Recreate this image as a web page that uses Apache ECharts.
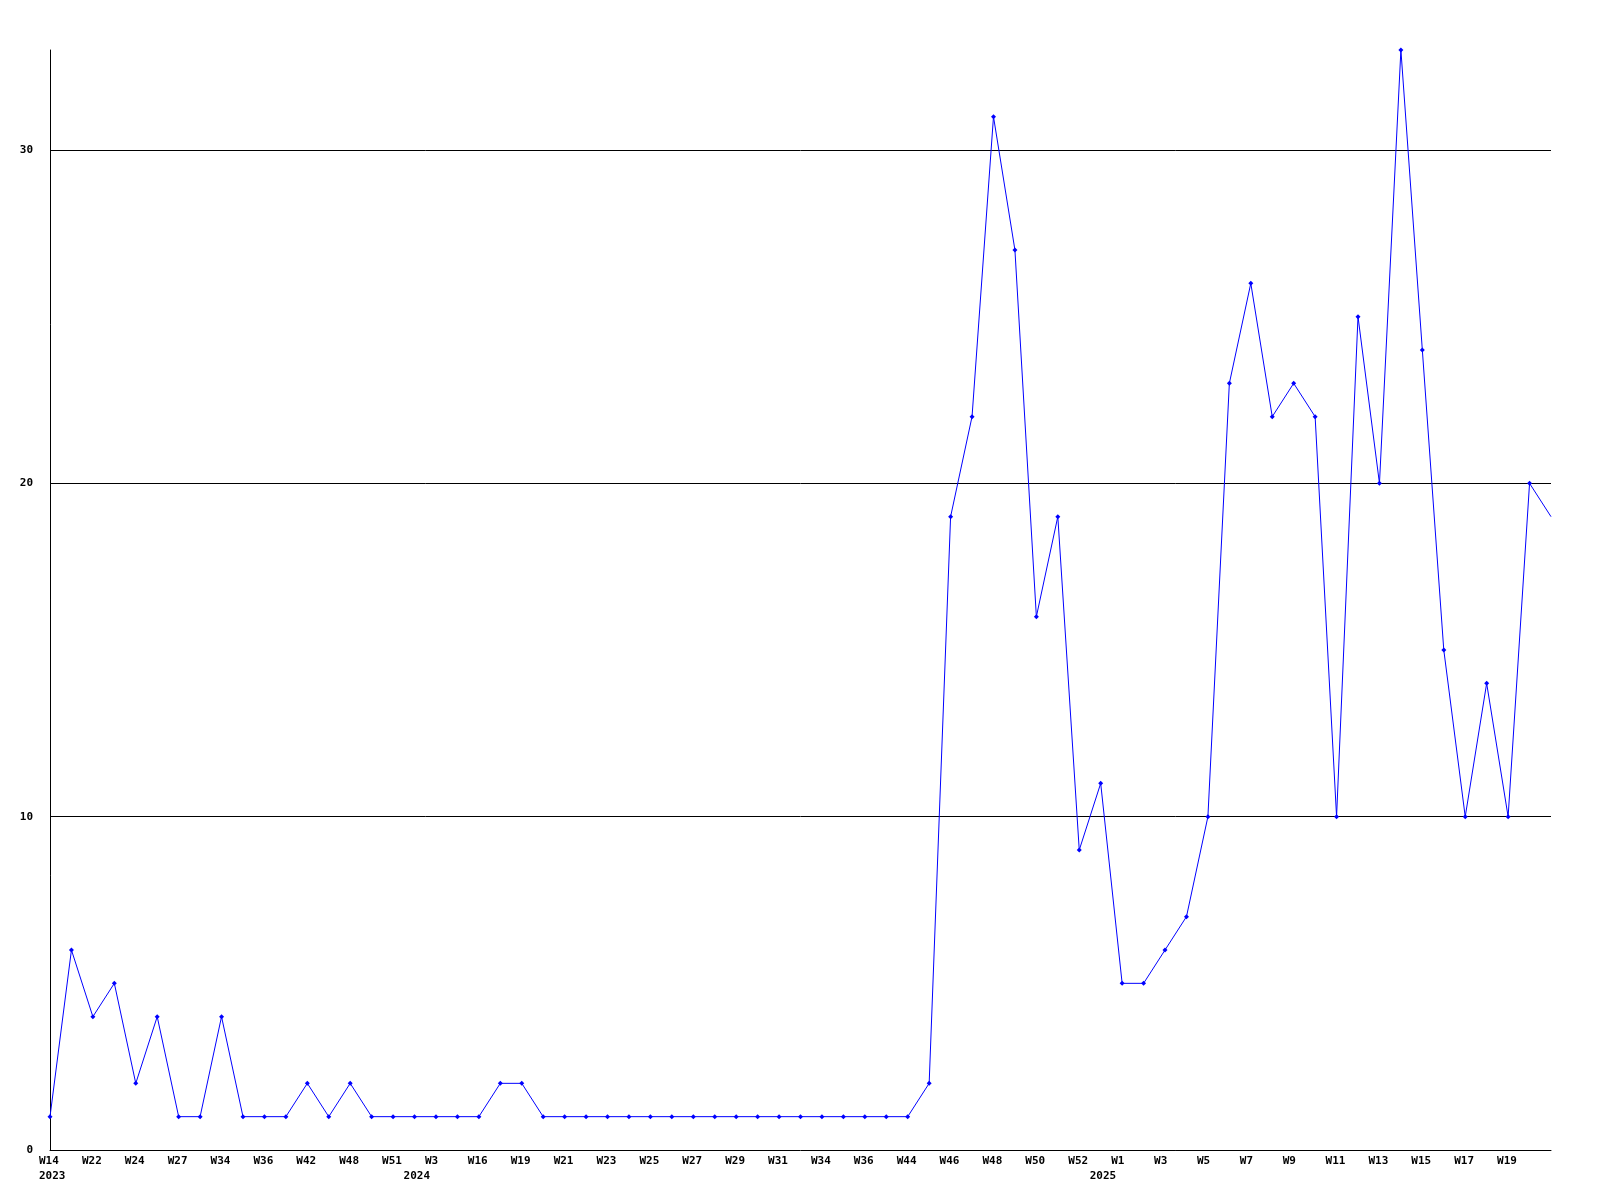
<!DOCTYPE html>
<html>
<head>
<meta charset="utf-8">
<script src="https://cdn.jsdelivr.net/npm/echarts@6/dist/echarts.min.js"></script>
<style>
html,body{margin:0;padding:0;background:#fff;}
#chart{width:1600px;height:1200px;}
</style>
</head>
<body>
<div id="chart"></div>
<script>
// Category per point: year and week label
const categories = [
  '2023-W14','2023-W21','2023-W22','2023-W23','2023-W24','2023-W26','2023-W27','2023-W30',
  '2023-W34','2023-W35','2023-W36','2023-W39','2023-W42','2023-W45','2023-W48','2023-W50',
  '2023-W51','2024-W2','2024-W3','2024-W10','2024-W16','2024-W18','2024-W19','2024-W20',
  '2024-W21','2024-W22','2024-W23','2024-W24','2024-W25','2024-W26','2024-W27','2024-W28',
  '2024-W29','2024-W30','2024-W31','2024-W32','2024-W34','2024-W35','2024-W36','2024-W40',
  '2024-W44','2024-W45','2024-W46','2024-W47','2024-W48','2024-W49','2024-W50','2024-W51',
  '2024-W52','2025-W0','2025-W1','2025-W2','2025-W3','2025-W4','2025-W5','2025-W6',
  '2025-W7','2025-W8','2025-W9','2025-W10','2025-W11','2025-W12','2025-W13','2025-W14',
  '2025-W15','2025-W16','2025-W17','2025-W18','2025-W19','2025-W20','2025-W21'
];
const values = [
  1,6,4,5,2,4,1,1,
  4,1,1,1,2,1,2,1,
  1,1,1,1,1,2,2,1,
  1,1,1,1,1,1,1,1,
  1,1,1,1,1,1,1,1,
  1,2,19,22,31,27,16,19,
  9,11,5,5,6,7,10,23,
  26,22,23,22,10,25,20,33,
  24,15,10,14,10,20,19
];
const yTicks = [0, 10, 20, 30];

const weekOf = c => c.split('-')[1];
const yearOf = c => c.split('-')[0];
const lastIdx = categories.length - 1;

const font = { fontFamily: 'DejaVu Sans Mono', fontWeight: 'bold', fontSize: 11, color: '#000' };

const chart = echarts.init(document.getElementById('chart'), null, { renderer: 'canvas' });
chart.setOption({
  animation: false,
  backgroundColor: '#ffffff',
  grid: { left: 50, right: 49, top: 50, bottom: 50, containLabel: false },
  xAxis: [
    {
      type: 'category',
      data: categories,
      boundaryGap: false,
      axisLine: { show: true, lineStyle: { color: '#000', width: 1 } },
      axisTick: { show: false },
      splitLine: { show: false },
      axisLabel: Object.assign({}, font, {
        interval: 1,
        margin: 6,
        showMaxLabel: false,
        formatter: (v, i) => (i === lastIdx ? '' : '{a|' + weekOf(v) + '}'),
        rich: { a: Object.assign({}, font, { width: 22, align: 'left' }) }
      })
    },
    {
      type: 'category',
      data: categories,
      boundaryGap: false,
      position: 'bottom',
      offset: 15,
      axisLine: { show: false },
      axisTick: { show: false },
      splitLine: { show: false },
      axisLabel: Object.assign({}, font, {
        interval: 0,
        margin: 6,
        formatter: (v, i) => {
          if (i === 0 || yearOf(categories[i - 1]) !== yearOf(v)) return '{a|' + yearOf(v) + '}';
          return '';
        },
        rich: { a: Object.assign({}, font, { width: 22, align: 'left' }) }
      })
    }
  ],
  yAxis: {
    type: 'value',
    min: 0,
    max: Math.max(...values),
    interval: 10,
    axisLine: { show: true, lineStyle: { color: '#000', width: 1 } },
    axisTick: { show: false },
    splitLine: { show: true, showMinLine: false, showMaxLine: false, lineStyle: { color: '#000', width: 1 } },
    axisLabel: Object.assign({}, font, {
      margin: 17,
      showMaxLabel: false,
      formatter: v => (yTicks.indexOf(v) >= 0 ? String(v) : '')
    })
  },
  series: [{
    type: 'line',
    xAxisIndex: 0,
    data: values.map((v, i) => (i === lastIdx ? { value: v, symbol: 'none' } : v)),
    symbol: 'diamond',
    symbolSize: 5,
    showAllSymbol: true,
    lineStyle: { color: '#0000ff', width: 1 },
    itemStyle: { color: '#0000ff' },
    emphasis: { disabled: true }
  }]
});
</script>
</body>
</html>
